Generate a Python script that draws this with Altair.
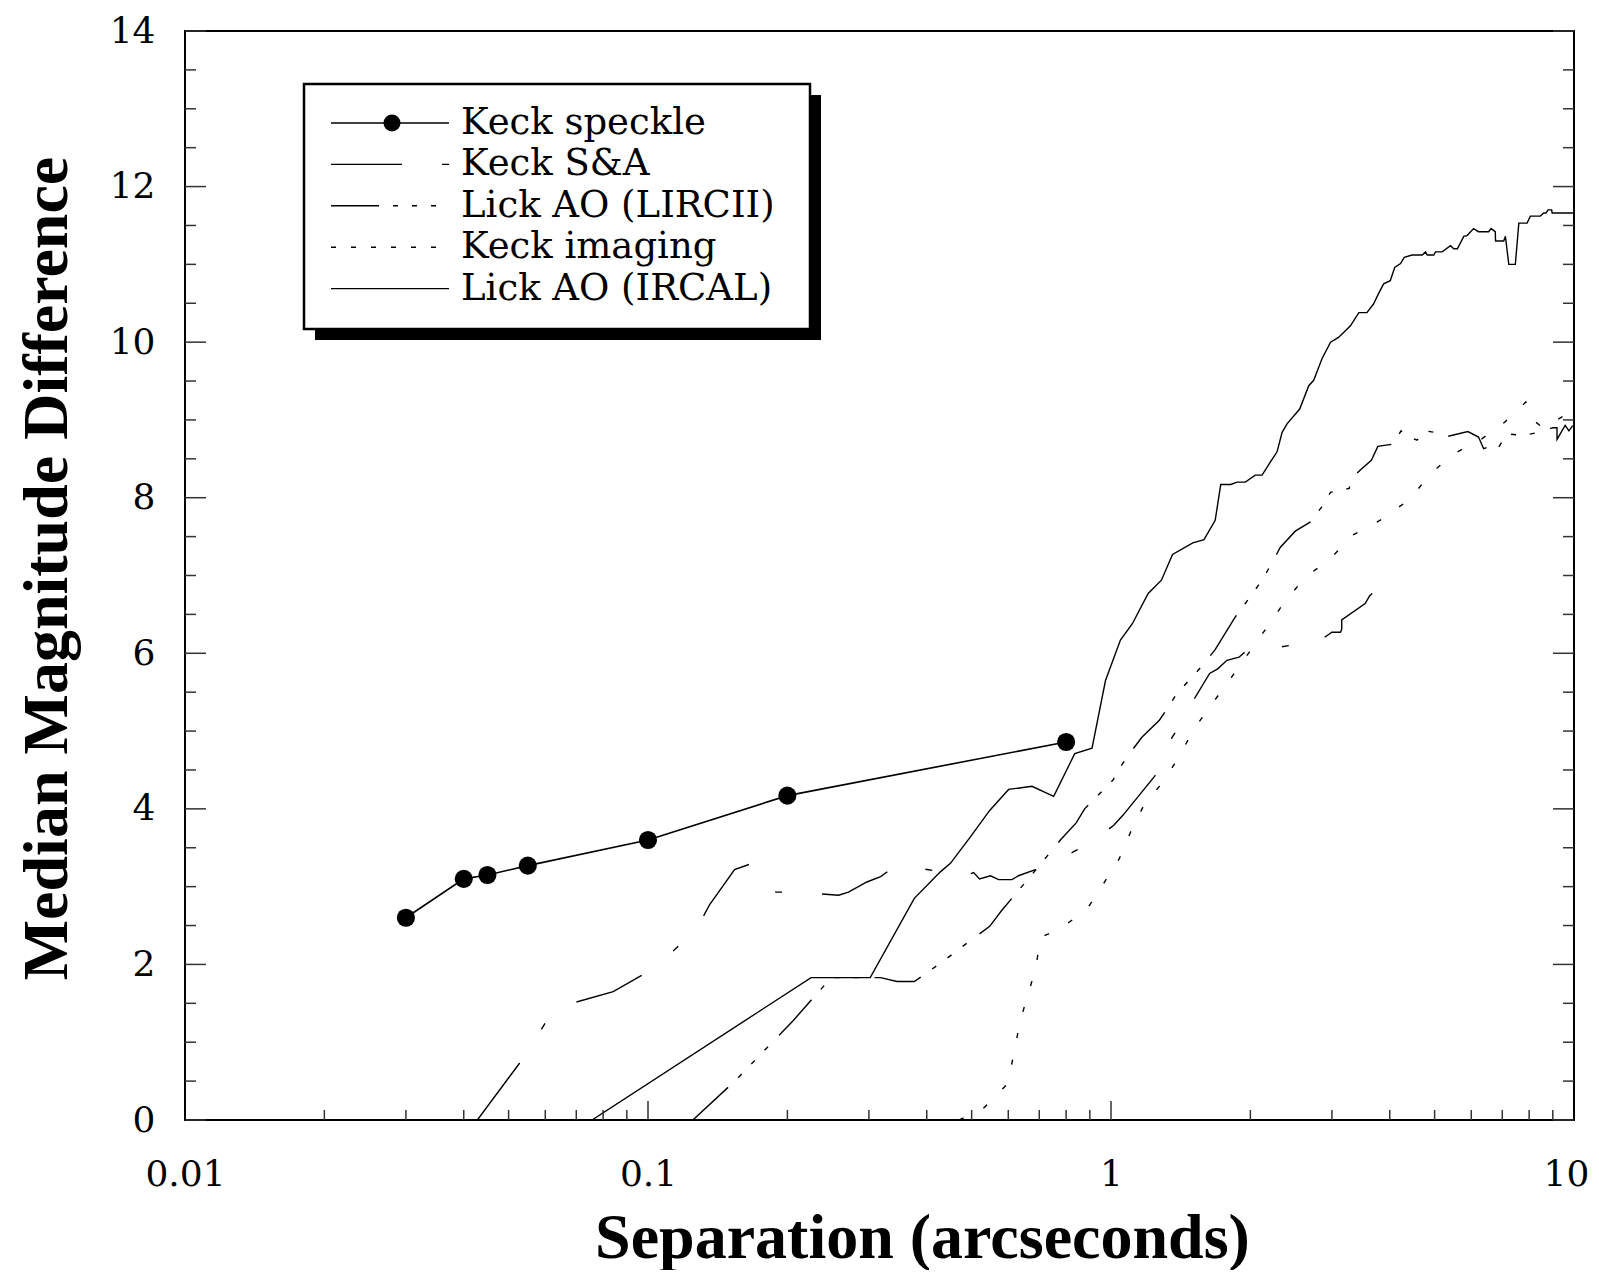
import altair as alt
import pandas as pd

# ---------------- data ----------------
SPECKLE_SEP = [0.03, 0.04, 0.045, 0.055, 0.1, 0.2, 0.8]
SPECKLE_MAG = [2.6, 3.1, 3.15, 3.27, 3.6, 4.17, 4.86]

SA_SEP = [0.0428, 0.0537, 0.0605, 0.0639, 0.0841, 0.1029, 0.1117, 0.1272, 0.1359, 0.1538,
          0.168, 0.189, 0.21, 0.258, 0.271, 0.297, 0.318, 0.341, 0.366, 0.45,
          0.465, 0.48, 0.505, 0.52, 0.549, 0.572, 0.611, 0.631, 0.78, 0.83,
          0.87, 0.925, 0.935, 0.96, 1.014, 1.062, 1.243, 1.314, 1.355, 1.39,
          1.40, 1.452, 1.633, 1.70, 1.78, 1.89, 1.95, 1.98, 2.07, 2.43,
          2.47, 2.57, 2.63, 2.70, 2.85, 3.0, 3.13, 3.15, 3.15, 3.54,
          3.62, 3.72, 3.75]
SA_MAG = [0, 0.79, 1.28, 1.45, 1.65, 1.95, 2.14, 2.45, 2.77, 3.22,
          3.30, 2.93, 2.93, 2.89, 2.93, 3.06, 3.13, 3.26, 3.26, 3.17,
          3.13, 3.13, 3.18, 3.10, 3.14, 3.09, 3.09, 3.14, 3.34, 3.45,
          3.51, 3.60, 3.68, 3.68, 3.79, 3.92, 4.42, 4.67, 4.92, 5.02,
          5.12, 5.24, 5.74, 5.80, 5.91, 5.95, 6.02, 5.98, 6.03, 6.10,
          6.06, 6.06, 6.10, 6.14, 6.18, 6.27, 6.27, 6.31, 6.43, 6.64,
          6.74, 6.80, 6.80]

LIRCII_SEP = [0.125, 0.154, 0.206, 0.2487, 0.302, 0.318, 0.345, 0.376, 0.4316, 0.49,
              0.547, 0.58, 0.689, 0.734, 0.78, 0.841, 0.877, 1.01, 1.042, 1.10,
              1.166, 1.272, 1.337, 1.379, 1.574, 1.68, 1.857, 1.95, 2.12, 2.23,
              2.32, 2.50, 2.70, 2.85, 2.98, 3.27, 3.30, 3.46, 3.65, 3.77,
              4.08, 4.23, 4.40, 4.58, 4.77, 5.0, 5.26, 5.9, 6.22, 6.38,
              6.6, 6.85, 7.05, 7.2, 7.8, 8.5, 9.0, 9.19, 9.19, 9.57,
              9.75, 10.0]
LIRCII_MAG = [0, 0.5, 1.28, 1.83, 1.83, 1.83, 1.78, 1.78, 2.03, 2.28,
              2.49, 2.69, 3.22, 3.42, 3.61, 3.82, 4.0, 4.37, 4.52, 4.72,
              4.92, 5.14, 5.33, 5.46, 5.84, 6.05, 6.47, 6.64, 6.94, 7.17,
              7.36, 7.57, 7.69, 7.88, 8.07, 8.12, 8.24, 8.36, 8.48, 8.66,
              8.69, 8.86, 8.78, 8.74, 8.86, 8.84, 8.78, 8.85, 8.78, 8.63,
              8.66, 8.63, 8.76, 8.82, 8.80, 8.85, 8.90, 8.90, 8.75, 8.93,
              8.86, 8.95]

IMG_SEP = [0.47, 0.53, 0.599, 0.637, 0.687, 0.705, 0.771, 0.885, 0.964, 1.042,
           1.10, 1.176, 1.296, 1.41, 1.504, 1.648, 1.81, 2.17, 2.37, 2.63,
           2.97, 3.33, 3.84, 4.42, 4.90, 5.52, 6.3, 7.08, 7.87, 8.2,
           8.6, 9.42, 10.0]
IMG_MAG = [0, 0.15, 0.47, 1.28, 1.94, 2.35, 2.45, 2.70, 3.04, 3.36,
           3.69, 4.04, 4.35, 4.69, 5.01, 5.34, 5.67, 6.33, 6.66, 6.98,
           7.21, 7.52, 7.72, 7.98, 8.31, 8.57, 8.75, 8.97, 9.23, 8.99,
           8.89, 9.04, 9.1]

IRCAL_SEP = [0.0757, 0.225, 0.302, 0.376, 0.428, 0.45, 0.497, 0.547, 0.601, 0.675,
             0.752, 0.835, 0.91, 0.973, 1.048, 1.112, 1.203, 1.285, 1.358, 1.502,
             1.588, 1.679, 1.726, 1.814, 1.872, 1.95, 2.05, 2.12, 2.21, 2.284,
             2.342, 2.40, 2.556, 2.674, 2.74, 2.857, 2.98, 3.10, 3.29, 3.43,
             3.57, 3.69, 3.78, 3.88, 4.01, 4.10, 4.22, 4.30, 4.47, 4.70,
             4.78, 4.82, 4.98, 5.02, 5.19, 5.41, 5.50, 5.60, 5.78, 5.875,
             6.07, 6.22, 6.54, 6.62, 6.76, 6.77, 7.05, 7.11, 7.23, 7.47,
             7.60, 7.92, 8.05, 8.46, 8.60, 8.70, 8.79, 8.95, 8.97, 10.0]
IRCAL_MAG = [0, 1.83, 1.83, 2.85, 3.19, 3.30, 3.64, 3.98, 4.25, 4.29,
             4.16, 4.71, 4.78, 5.65, 6.17, 6.38, 6.77, 6.94, 7.27, 7.42,
             7.46, 7.71, 8.17, 8.17, 8.20, 8.20, 8.29, 8.29, 8.46, 8.59,
             8.84, 8.95, 9.14, 9.44, 9.51, 9.79, 10.0, 10.06, 10.21, 10.38,
             10.38, 10.49, 10.62, 10.75, 10.79, 10.96, 11.01, 11.09, 11.12, 11.12,
             11.16, 11.12, 11.12, 11.16, 11.16, 11.24, 11.20, 11.20, 11.36, 11.37,
             11.46, 11.42, 11.42, 11.46, 11.42, 11.30, 11.30, 11.36, 11.0, 11.0,
             11.53, 11.53, 11.62, 11.62, 11.66, 11.66, 11.70, 11.70, 11.66, 11.66]

SERIES_NAMES = ["Keck speckle", "Keck S&A", "Lick AO (LIRCII)", "Keck imaging", "Lick AO (IRCAL)"]

X_MAJOR = [0.01, 0.1, 1, 10]
X_MINOR = [0.02, 0.03, 0.04, 0.05, 0.06, 0.07, 0.08, 0.09,
           0.2, 0.3, 0.4, 0.5, 0.6, 0.7, 0.8, 0.9,
           2, 3, 4, 5, 6, 7, 8, 9]
Y_MAJOR = [0, 2, 4, 6, 8, 10, 12, 14]
Y_MINOR = [0.5, 1, 1.5, 2.5, 3, 3.5, 4.5, 5, 5.5, 6.5, 7, 7.5, 8.5, 9, 9.5,
           10.5, 11, 11.5, 12.5, 13, 13.5]

# ---------------- styling ----------------
W, H = 1389, 1089
FONT = "DejaVu Serif"
TFONT = "Liberation Serif"
XT = "Separation (arcseconds)"
YT = "Median Magnitude Difference"

xscale = alt.Scale(type="log", domain=[0.01, 10], nice=False)
yscale = alt.Scale(domain=[0, 14], nice=False, zero=False)

AX_X = alt.Axis(
    values=X_MAJOR, format="~g", tickSize=0, domain=False, grid=False,
    labelFont=FONT, labelFontSize=36, labelColor="black", labelPadding=37,
    labelFlush=False, labelOverlap=False,
    labelOffset={"condition": {"test": "datum.value >= 10", "value": -8}, "value": 0},
    titleFont=TFONT, titleFontSize=64, titleFontWeight="bold", titleColor="black",
    titleX=737, titleY=137, titleAlign="center", titleBaseline="alphabetic",
)
AX_Y = alt.Axis(
    values=Y_MAJOR, format="d", tickSize=0, domain=False, grid=False,
    labelFont=FONT, labelFontSize=36, labelColor="black", labelPadding=30,
    labelFlush=False, labelOverlap=False,
    titleFont=TFONT, titleFontSize=64, titleFontWeight="bold", titleColor="black",
    titleX=-119, titleY=537, titleAlign="center", titleBaseline="alphabetic", titleAngle=270,
)

DASH_SA = [71, 40, 7, 40]
DASH_LIRCII = [48, 14, 5, 14, 5, 14, 5, 16]
DASH_IMG = [5, 22]


def frame(seps, mags):
    return pd.DataFrame({"sep": seps, "mag": mags, "idx": list(range(len(seps)))})


def X():
    return alt.X("sep:Q", scale=xscale, title=XT, axis=AX_X)


def Y():
    return alt.Y("mag:Q", scale=yscale, title=YT, axis=AX_Y)


def line(df, dash=None, width=1.4):
    kw = dict(color="black", strokeWidth=width, clip=True)
    if dash is not None:
        kw["strokeDash"] = dash
    return alt.Chart(df).mark_line(**kw).encode(x=X(), y=Y(), order="idx:Q")


layers = []
layers.append(line(frame(IRCAL_SEP, IRCAL_MAG)))
layers.append(line(frame(IMG_SEP, IMG_MAG), DASH_IMG))
layers.append(line(frame(LIRCII_SEP, LIRCII_MAG), DASH_LIRCII))
layers.append(line(frame(SA_SEP, SA_MAG), DASH_SA))
speck = frame(SPECKLE_SEP, SPECKLE_MAG)
layers.append(line(speck, width=1.6))
layers.append(alt.Chart(speck).mark_circle(color="black", size=330, opacity=1).encode(x=X(), y=Y()))

# inward ticks
ydf_major = pd.DataFrame({"mag": Y_MAJOR})
ydf_minor = pd.DataFrame({"mag": Y_MINOR})
for d, ln in ((ydf_major, 21), (ydf_minor, 11)):
    layers.append(alt.Chart(d).mark_rule(color="#333", strokeWidth=1.5).encode(
        y=Y(), x=alt.value(0), x2=alt.value(ln)))
    layers.append(alt.Chart(d).mark_rule(color="#333", strokeWidth=1.5).encode(
        y=Y(), x=alt.value(W - ln), x2=alt.value(W)))
xdf_major = pd.DataFrame({"sep": X_MAJOR[1:-1]})
xdf_minor = pd.DataFrame({"sep": X_MINOR})
for d, ln in ((xdf_major, 19), (xdf_minor, 10)):
    layers.append(alt.Chart(d).mark_rule(color="#333", strokeWidth=1.5).encode(
        x=X(), y=alt.value(H - ln), y2=alt.value(H)))

# legend box (drawn in pixel space)
one = alt.Data(values=[{"k": 1}])
BX0, BX1, BY0, BY1, SH = 119, 625, 53, 298, 11
layers.append(alt.Chart(one).mark_rect(color="black").encode(
    x=alt.value(BX0 + SH), x2=alt.value(BX1 + SH), y=alt.value(BY0 + SH), y2=alt.value(BY1 + SH)))
layers.append(alt.Chart(one).mark_rect(fill="white", stroke="black", strokeWidth=2.5).encode(
    x=alt.value(BX0), x2=alt.value(BX1), y=alt.value(BY0), y2=alt.value(BY1)))

SYM0, SYM1, TX = 146, 264, 276
dashes = [None, DASH_SA, DASH_LIRCII, [5, 15], None]
for i, name in enumerate(SERIES_NAMES):
    yy = 92 + 41.4 * i
    kw = dict(color="black", strokeWidth=1.4)
    if dashes[i] is not None:
        kw["strokeDash"] = dashes[i]
    layers.append(alt.Chart(one).mark_rule(**kw).encode(
        x=alt.value(SYM0), x2=alt.value(SYM1), y=alt.value(yy)))
    if i == 0:
        layers.append(alt.Chart(one).mark_circle(color="black", size=290, opacity=1).encode(
            x=alt.value((SYM0 + SYM1) / 2 + 2), y=alt.value(yy)))
    layers.append(alt.Chart(one).mark_text(
        align="left", baseline="alphabetic", font=FONT, fontSize=37, color="black"
    ).encode(x=alt.value(TX), y=alt.value(yy + 11), text=alt.value(name)))

chart = alt.layer(*layers).properties(
    width=W, height=H,
    autosize=alt.AutoSizeParams(type="none"),
    padding={"left": 177, "top": 23, "right": 17, "bottom": 150},
).configure_view(
    stroke="black", strokeWidth=2
)

chart.save("out.html", embed_options={"renderer": "svg", "actions": False})
